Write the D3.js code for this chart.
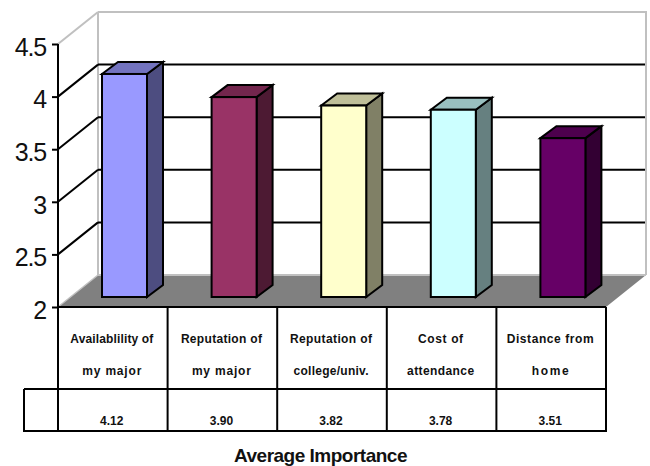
<!DOCTYPE html>
<html>
<head>
<meta charset="utf-8">
<script src="https://cdn.jsdelivr.net/npm/d3@7"></script>
<style>
  html, body { margin: 0; padding: 0; background: #fff; }
  svg { display: block; }
  text { font-family: "Liberation Sans", Arial, sans-serif; fill: #111; }
  .cat { font-size: 12px; font-weight: bold; text-anchor: middle; }
  .val { font-size: 12px; font-weight: bold; text-anchor: middle; }
</style>
</head>
<body>
<svg id="chart" width="650" height="466"></svg>
<script>
const categories = ['Availablility of|my major', 'Reputation of|my major', 'Reputation of|college/univ.', 'Cost of|attendance', 'Distance from|home'];
const values = [4.12, 3.90, 3.82, 3.78, 3.51];
const valueLabels = ['4.12', '3.90', '3.82', '3.78', '3.51'];
const yTicks = [2, 2.5, 3, 3.5, 4, 4.5];
const barColors = ['#9999ff', '#993366', '#ffffcc', '#ccffff', '#660066'];
// width each label line takes up in the table, the original spreads its letters
const line1Widths = [83, 81, 82, 45, 87];
const line2Widths = [59, 59, 75, 67, 37];

const svg = d3.select('#chart');
const x = d3.scaleBand().domain(categories).range([58, 606]);
const y = d3.scaleLinear().domain([2, 4.5]).range([307, 44]);

// offset of the back wall from the front plane
const wallDx = 40, wallDy = -32;
// bars stand a bit behind the front edge
const barInset = 44, barW = 45, barLift = -10, barDx = 16, barDy = -12;
const wallRight = x.range()[1] + wallDx;

const shade = (c, k) => {
    const r = d3.rgb(c);
    return d3.rgb(r.r * k, r.g * k, r.b * k).formatHex();
};

function line(x1, y1, x2, y2, stroke, w) {
    svg.append('line').attr('x1', x1).attr('y1', y1).attr('x2', x2).attr('y2', y2)
        .attr('stroke', stroke).attr('stroke-width', w);
}

// floor
const y0 = y(2);
svg.append('path')
    .attr('d', `M${x.range()[0]},${y0}L${x.range()[0] + wallDx},${y0 + wallDy}L${wallRight},${y0 + wallDy}L${x.range()[1]},${y0}Z`)
    .attr('fill', '#808080');

// walls
line(x.range()[0] + wallDx, y(4.5) + wallDy, wallRight + 1, y(4.5) + wallDy, '#c0c0c0', 2);
line(x.range()[0] + wallDx, y(4.5) + wallDy, x.range()[0] + wallDx, y0 + wallDy, '#c0c0c0', 2);
line(wallRight, y(4.5) + wallDy, wallRight, y0 + wallDy, '#c0c0c0', 2);
line(x.range()[0] + wallDx, y0 + wallDy, wallRight, y0 + wallDy, '#c0c0c0', 2);
line(x.range()[0], y(4.5), x.range()[0] + wallDx, y(4.5) + wallDy, '#c0c0c0', 2);
line(x.range()[0], y0, x.range()[0] + wallDx, y0 + wallDy, '#c0c0c0', 1.5);

// gridlines
yTicks.filter(t => t > 2 && t < 4.5).forEach(t => {
    line(x.range()[0], y(t), x.range()[0] + wallDx, y(t) + wallDy, '#000', 2);
    line(x.range()[0] + wallDx, y(t) + wallDy, wallRight - 1, y(t) + wallDy, '#000', 2);
});

// bars
categories.forEach((c, i) => {
    const bx = x(c) + barInset;
    const top = y(values[i]) + barLift;
    const bottom = y0 + barLift;
    const g = svg.append('g').attr('stroke', '#000').attr('stroke-width', 2).attr('stroke-linejoin', 'miter');
    g.append('path')
        .attr('d', `M${bx + barW},${top}L${bx + barW + barDx},${top + barDy}L${bx + barW + barDx},${bottom + barDy}L${bx + barW},${bottom}Z`)
        .attr('fill', shade(barColors[i], 0.5));
    g.append('path')
        .attr('d', `M${bx},${top}L${bx + barDx},${top + barDy}L${bx + barW + barDx},${top + barDy}L${bx + barW},${top}Z`)
        .attr('fill', shade(barColors[i], 0.75));
    g.append('rect').attr('x', bx).attr('y', top).attr('width', barW).attr('height', bottom - top)
        .attr('fill', barColors[i]);
});

// y axis
const yAxis = d3.axisLeft(y).tickValues(yTicks).tickFormat(d3.format('~g')).tickSize(6).tickPadding(6);
const axisG = svg.append('g').attr('transform', `translate(${x.range()[0]},0)`).call(yAxis);
axisG.select('.domain').attr('stroke', '#000').attr('stroke-width', 2).attr('d', `M0,${y(4.5)}V${y0}`);
axisG.selectAll('.tick line').attr('stroke', '#000').attr('stroke-width', 2);
axisG.selectAll('.tick text')
    .attr('font-family', '"Liberation Sans", Arial, sans-serif')
    .style('font-size', '25px').style('letter-spacing', '-1.2px').attr('dy', '0.45em');

// data table under the plot
const rowMid = 389, rowBottom = 431, tableLeft = 24;
line(x.range()[0], y0, x.range()[1], y0, '#000', 2);
line(tableLeft, rowMid, x.range()[1], rowMid, '#000', 2);
line(tableLeft - 1, rowBottom, x.range()[1] + 1, rowBottom, '#000', 2);
line(tableLeft, rowMid, tableLeft, rowBottom, '#000', 2);
line(x.range()[0], y0, x.range()[0], rowBottom, '#000', 2);
categories.forEach(c => line(x(c) + x.bandwidth(), y0, x(c) + x.bandwidth(), rowBottom, '#000', 2));

categories.forEach((c, i) => {
    const cx = x(c) + x.bandwidth() / 2;
    const [l1, l2] = c.split('|');
    svg.append('text').attr('class', 'cat').attr('x', cx - 1).attr('y', 343)
        .attr('textLength', line1Widths[i]).attr('lengthAdjust', 'spacing').text(l1);
    svg.append('text').attr('class', 'cat').attr('x', cx - 1).attr('y', 375)
        .attr('textLength', line2Widths[i]).attr('lengthAdjust', 'spacing').text(l2);
    svg.append('text').attr('class', 'val').attr('x', cx - 1).attr('y', 425).text(valueLabels[i]);
});

svg.append('text').attr('x', 320.5).attr('y', 462)
    .attr('text-anchor', 'middle').attr('font-weight', 'bold').attr('font-size', 19)
    .style('letter-spacing', '-0.5px')
    .text('Average Importance');
</script>
</body>
</html>
